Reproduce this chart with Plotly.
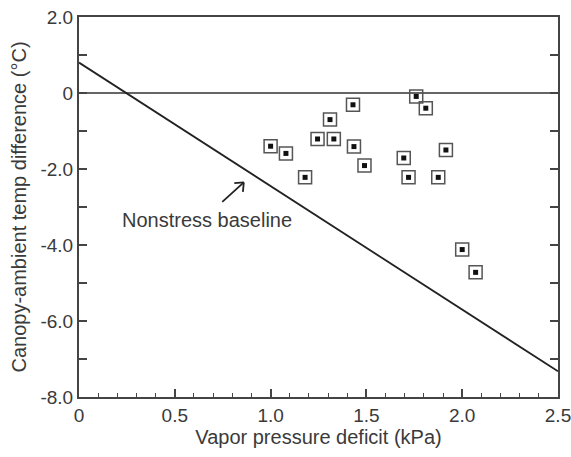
import plotly.graph_objects as go

vpd = [1.00, 1.08, 1.18, 1.245, 1.31, 1.33, 1.43, 1.435, 1.49, 1.695, 1.72, 1.76, 1.81, 1.875, 1.915, 2.00, 2.07]
temp_diff = [-1.40, -1.59, -2.22, -1.21, -0.70, -1.21, -0.31, -1.41, -1.91, -1.71, -2.22, -0.09, -0.40, -2.22, -1.50, -4.12, -4.72]

baseline_x = [0, 2.5]
baseline_y = [0.8, -7.325]

x_tickvals = [0, 0.5, 1.0, 1.5, 2.0, 2.5]
x_ticktext = ["0", "0.5", "1.0", "1.5", "2.0", "2.5"]
y_tickvals = [2, 1, 0, -1, -2, -3, -4, -5, -6, -7, -8]
y_ticktext = ["2.0", "", "0", "", "-2.0", "", "-4.0", "", "-6.0", "", "-8.0"]

font_family = "Liberation Sans, Arial, sans-serif"
txt_color = "#3a3a3a"

fig = go.Figure()
# zero line
fig.add_trace(go.Scatter(x=[0, 2.5], y=[0, 0], mode="lines",
                         line=dict(color="#333333", width=1.5), showlegend=False, hoverinfo="skip"))
# baseline
fig.add_trace(go.Scatter(x=baseline_x, y=baseline_y, mode="lines",
                         line=dict(color="#222222", width=1.8), showlegend=False))
# outer open squares
fig.add_trace(go.Scatter(x=vpd, y=temp_diff, mode="markers",
                         marker=dict(symbol="square-open", size=13, color="#555555",
                                     line=dict(width=1.5, color="#555555")),
                         showlegend=False))
# inner filled squares
fig.add_trace(go.Scatter(x=vpd, y=temp_diff, mode="markers",
                         marker=dict(symbol="square", size=5, color="#111111", line=dict(width=0)),
                         showlegend=False))

arrow_x, arrow_y = 0.86, -2.35
for ax_, ay_ in [(-23, 21), (-11, 1), (-1, 11)]:
    fig.add_annotation(x=arrow_x, y=arrow_y, xref="x", yref="y", text="", showarrow=True,
                       ax=ax_, ay=ay_, arrowhead=0, arrowwidth=1.8, arrowcolor="#222222",
                       standoff=0, startstandoff=0)
fig.add_annotation(x=0.67, y=-3.33, xref="x", yref="y", text="Nonstress baseline",
                   showarrow=False, font=dict(size=20, color=txt_color, family=font_family))

fig.update_xaxes(range=[0, 2.5], tickvals=x_tickvals, ticktext=x_ticktext,
                 ticks="inside", ticklen=8, tickwidth=1.5, tickcolor="#444444",
                 minor=dict(dtick=0.1, ticks="inside", ticklen=4, tickwidth=1.2, tickcolor="#444444"),
                 showline=True, linecolor="#444444", linewidth=2, mirror=True,
                 showgrid=False, zeroline=False, automargin=False, ticklabeloverflow="allow",
                 tickfont=dict(size=19, color=txt_color, family=font_family),
                 title=dict(text="Vapor pressure deficit (kPa)", standoff=4,
                            font=dict(size=20, color=txt_color, family=font_family)))
fig.update_yaxes(range=[-8, 2], tickvals=y_tickvals, ticktext=y_ticktext,
                 ticks="inside", ticklen=8, tickwidth=1.5, tickcolor="#444444",
                 showline=True, linecolor="#444444", linewidth=2, mirror="ticks",
                 showgrid=False, zeroline=False, automargin=False, ticklabeloverflow="allow",
                 tickfont=dict(size=19, color=txt_color, family=font_family),
                 title=dict(text="Canopy-ambient temp difference (°C)", standoff=8,
                            font=dict(size=20, color=txt_color, family=font_family)))

fig.update_layout(width=571, height=457, margin=dict(l=79, r=13, t=17, b=60),
                  plot_bgcolor="white", paper_bgcolor="white")

# remove the browser's default 8px page margin so the figure fills the window exactly
fig.write_html("out.html", config={"displayModeBar": False},
               post_script="document.body.style.margin='0';document.body.style.overflow='hidden';")
